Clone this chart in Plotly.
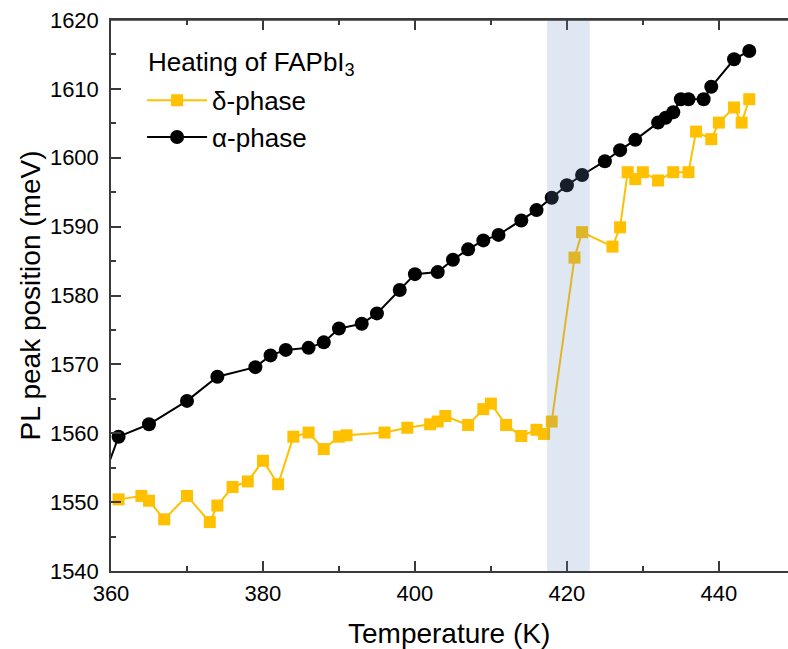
import plotly.graph_objects as go

# ---- data ----
alpha_T = [359, 361, 365, 370, 374, 379, 381, 383, 386, 388, 390, 393, 395, 398, 400, 403, 405,
           407, 409, 411, 414, 416, 418, 420, 422, 425, 427, 429, 432, 433, 434, 435, 436,
           438, 439, 442, 444]
alpha_E = [1553.5, 1559.5, 1561.3, 1564.7, 1568.2, 1569.6, 1571.3, 1572.1, 1572.4, 1573.2, 1575.2,
           1575.9, 1577.4, 1580.8, 1583.1, 1583.4, 1585.2, 1586.7, 1588.0, 1588.8, 1590.9, 1592.4,
           1594.2, 1596.0, 1597.5, 1599.5, 1601.1, 1602.6, 1605.1, 1605.8, 1606.6, 1608.5, 1608.5,
           1608.5, 1610.3, 1614.3, 1615.5]

delta_T = [361, 364, 365, 367, 370, 373, 374, 376, 378, 380, 382, 384, 386, 388, 390, 391, 396,
           399, 402, 403, 404, 407, 409, 410, 412, 414, 416, 417, 418, 421, 422, 426, 427, 428,
           429, 430, 432, 434, 436, 437, 439, 440, 442, 443, 444]
delta_E = [1550.4, 1550.9, 1550.2, 1547.5, 1550.9, 1547.1, 1549.5, 1552.2, 1553.0, 1556.0, 1552.6,
           1559.5, 1560.1, 1557.7, 1559.5, 1559.7, 1560.1, 1560.8, 1561.3, 1561.7, 1562.5, 1561.2,
           1563.5, 1564.3, 1561.2, 1559.6, 1560.5, 1559.9, 1561.7, 1585.5, 1589.2, 1587.1, 1589.9,
           1597.9, 1596.9, 1597.9, 1596.7, 1597.9, 1597.9, 1603.8, 1602.7, 1605.1, 1607.3, 1605.1,
           1608.5]

band_T = [417.4, 423.0]
x_range = [360, 449.1]
y_range = [1540, 1620]
x_ticks = [360, 380, 400, 420, 440]
y_ticks = [1540, 1550, 1560, 1570, 1580, 1590, 1600, 1610, 1620]

FONT = "Liberation Sans, Arial, sans-serif"
YELLOW = "#FFC000"
AXC = "#3a3a3a"

fig = go.Figure()
fig.add_trace(go.Scatter(
    x=delta_T, y=delta_E, mode="lines+markers", name="δ-phase",
    line=dict(color=YELLOW, width=2),
    marker=dict(symbol="square", size=12, color=YELLOW),
))
fig.add_trace(go.Scatter(
    x=alpha_T, y=alpha_E, mode="lines+markers", name="α-phase",
    line=dict(color="black", width=2),
    marker=dict(symbol="circle", size=14, color="black"),
))

fig.add_shape(type="rect", xref="x", yref="paper", x0=band_T[0], x1=band_T[1], y0=0, y1=1,
              fillcolor="rgb(102,144,196)", opacity=0.21, line=dict(width=0), layer="above")
# top frame line (plot-area border)
fig.add_shape(type="line", xref="paper", yref="paper", x0=0, x1=1, y0=1, y1=1,
              line=dict(color=AXC, width=1.5), layer="above")

# legend title and axis titles as annotations for exact placement
fig.add_annotation(text="Heating of FAPbI<sub>3</sub>", xref="paper", yref="paper",
                   x=0.0517, y=0.9202, xanchor="left", yanchor="middle", showarrow=False,
                   font=dict(size=26, family=FONT, color="black"))
fig.add_annotation(text="Temperature (K)", xref="paper", yref="paper",
                   x=0.499, y=-0.113, xanchor="center", yanchor="middle", showarrow=False,
                   font=dict(size=28, family=FONT, color="black"))
fig.add_annotation(text="PL peak position (meV)", xref="paper", yref="paper",
                   x=-0.1196, y=0.5, xanchor="center", yanchor="middle", showarrow=False,
                   textangle=-90, font=dict(size=28, family=FONT, color="black"))

fig.update_layout(
    width=788, height=649,
    margin=dict(l=111, r=0, t=20, b=78, autoexpand=False),
    paper_bgcolor="white", plot_bgcolor="white",
    font=dict(family=FONT, size=22, color="black"),
    showlegend=True,
    legend=dict(x=0.0459, y=0.897, xanchor="left", yanchor="top", bgcolor="rgba(0,0,0,0)",
                font=dict(size=26, family=FONT, color="black"), itemwidth=60,
                tracegroupgap=0),
    xaxis=dict(
        range=x_range, tickvals=x_ticks, ticks="inside", ticklen=10, tickwidth=1.5,
        tickcolor=AXC, showline=True, linecolor=AXC, linewidth=1.5, mirror="ticks",
        showgrid=False, zeroline=False, ticklabelstandoff=2, automargin=False,
        tickfont=dict(size=22),
        minor=dict(dtick=10, tick0=360, ticks="inside", ticklen=5, tickwidth=1.5, tickcolor=AXC),
    ),
    yaxis=dict(
        range=y_range, tickvals=y_ticks, ticks="inside", ticklen=10, tickwidth=1.5,
        tickcolor=AXC, showline=True, linecolor=AXC, linewidth=1.5, mirror=False,
        showgrid=False, zeroline=False, ticklabelstandoff=6, automargin=False,
        tickfont=dict(size=22),
        minor=dict(dtick=5, tick0=1540, ticks="inside", ticklen=5, tickwidth=1.5, tickcolor=AXC),
    ),
    yaxis2=dict(
        range=y_range, overlaying="y", side="right", tickvals=y_ticks, ticks="inside",
        ticklen=3, tickwidth=1.5, tickcolor=AXC, showticklabels=False, showline=False,
        showgrid=False, zeroline=False, automargin=False,
    ),
)

fig.write_html("out.html", config={"displayModeBar": False},
               post_script="document.body.style.margin='0';document.body.style.padding='0';")
